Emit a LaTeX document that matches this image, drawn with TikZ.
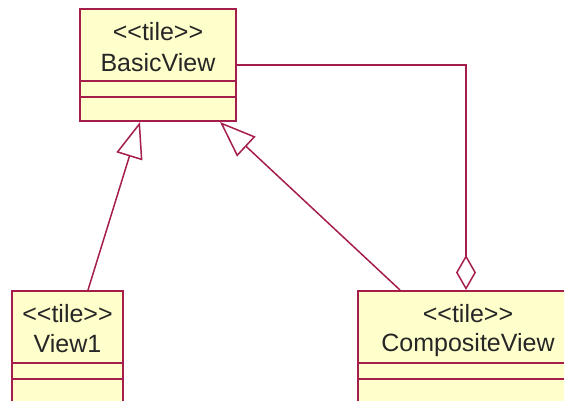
\documentclass[tikz,border=0pt]{standalone}
\usepackage{fontspec}
\setmainfont{Liberation Sans}[Ligatures=TeXOff]
\usetikzlibrary{arrows.meta,calc}
\definecolor{umlline}{RGB}{165,30,75}
\definecolor{umlfill}{RGB}{255,255,204}
\tikzset{
  classbox/.style={draw=umlline, fill=umlfill, line width=2pt, rectangle,
    inner sep=0pt, minimum height=112pt},
  classtext/.style={font=\fontsize{25}{28}\selectfont, inner sep=0pt, text=black!85},
  sep/.style={draw=umlline, line width=2pt},
  gen/.style={draw=umlline, line width=1.5pt,
    -{Triangle[open, length=36pt, width=27pt, line width=1.5pt, fill=white]}},
  agg/.style={draw=umlline, line width=1.5pt,
    {Diamond[open, length=35pt, width=20pt, line width=1.5pt, fill=white]}-},
}
\begin{document}
\begin{tikzpicture}[x=1pt, y=-1pt]
  \useasboundingbox (0,0) rectangle (564,400);
  \clip (0,0) rectangle (564,400);

  % class boxes
  \node[classbox, minimum width=156pt, anchor=north west] (basic) at (79,8) {};
  \node[classbox, minimum width=111pt, anchor=north west] (view1) at (11,290) {};
  \node[classbox, minimum width=220pt, anchor=north west] (comp) at (357,290) {};

  % compartments and titles
  \foreach \b in {basic, view1, comp} {
    \draw[sep] ($(\b.north west)+(0,73)$) -- ($(\b.north east)+(0,73)$);
    \draw[sep] ($(\b.north west)+(0,89)$) -- ($(\b.north east)+(0,89)$);
  }
  \node[classtext] (basicst) at ($(basic.north)+(0,24)$) {<<tile>>};
  \node[classtext] (basicnm) at ($(basic.north)+(0,55)$) {BasicView};
  \node[classtext] (view1st) at ($(view1.north)+(0,24)$) {<<tile>>};
  \node[classtext] (view1nm) at ($(view1.north)+(0,54)$) {View1};
  \node[classtext] (compst) at ($(comp.north)+(0,24)$) {<<tile>>};
  \node[classtext] (compnm) at ($(comp.north)+(0,55)$) {CompositeView};

  % generalizations
  \draw[gen] ($(view1.north west)+(77,0)$) -- ($(basic.south west)+(61,0)$);
  \draw[gen] ($(comp.north west)+(43,0)$) -- ($(basic.south west)+(141,0)$);

  % aggregation
  \draw[agg] ($(comp.north west)+(109,0)$) |- (basic.east);
\end{tikzpicture}
\end{document}
